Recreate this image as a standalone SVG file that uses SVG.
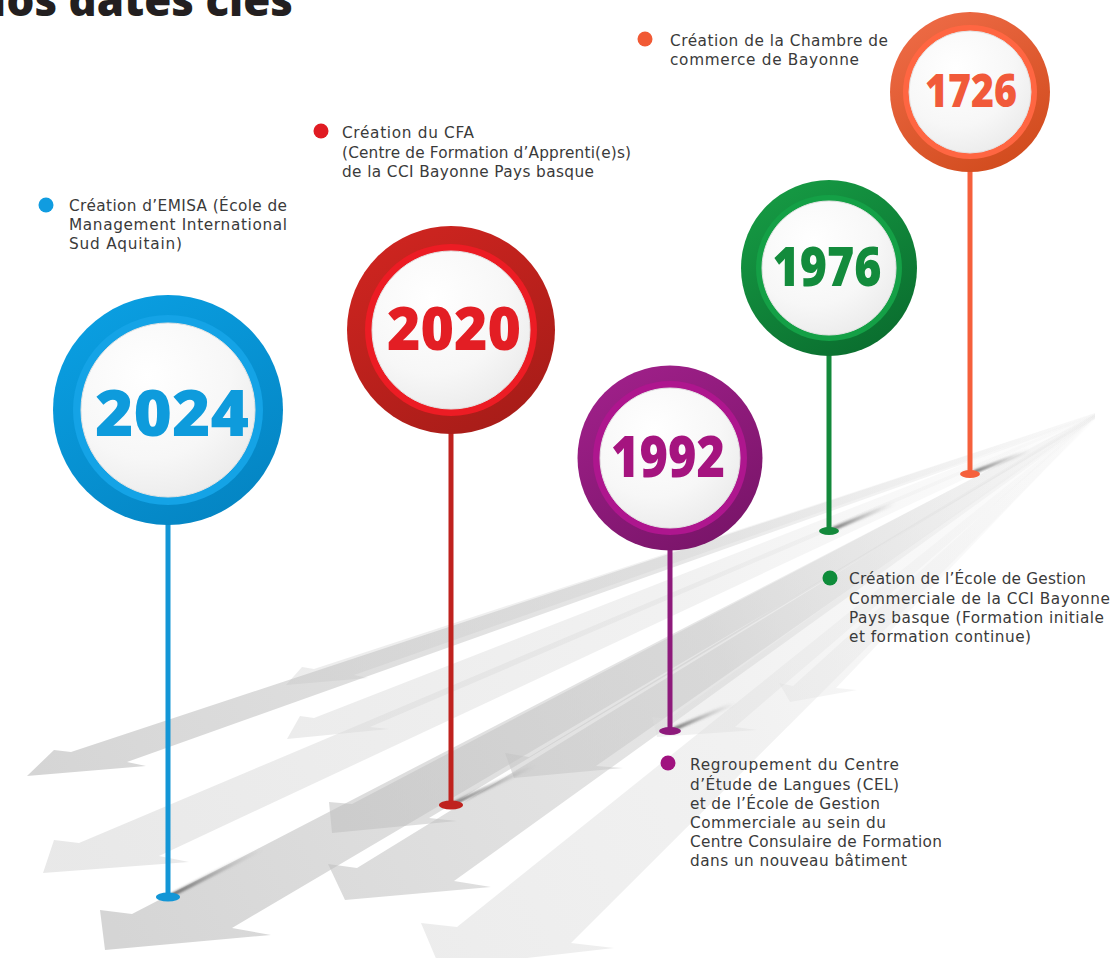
<svg xmlns="http://www.w3.org/2000/svg" width="1112" height="958" viewBox="0 0 1112 958">
<style>
.lbl{font-family:"DejaVu Sans","Open Sans",sans-serif;font-size:15.3px;fill:#3a3a3a}
.yr{font-family:"Open Sans","Liberation Sans",sans-serif;font-weight:800;text-anchor:middle}
.title{font-family:"Open Sans","Liberation Sans",sans-serif;font-weight:800;font-size:44px;fill:#231f20}
.arrA{fill:url(#arrDark)}
.arrB{fill:url(#arrLight)}
.disc{fill:url(#discGrad);stroke:#e2e2e2;stroke-width:1}
.shadow{stroke:url(#shGrad);stroke-width:4;fill:none;filter:url(#blur)}
</style>
<defs>
<linearGradient id="arrDark" gradientUnits="userSpaceOnUse" x1="100" y1="900" x2="1095" y2="415">
<stop offset="0" stop-color="#b9b9b9" stop-opacity="0.6"/>
<stop offset="0.6" stop-color="#c8c8c8" stop-opacity="0.45"/>
<stop offset="1" stop-color="#e4e4e4" stop-opacity="0.15"/>
</linearGradient>
<linearGradient id="arrLight" gradientUnits="userSpaceOnUse" x1="100" y1="900" x2="1095" y2="415">
<stop offset="0" stop-color="#d6d6d6" stop-opacity="0.55"/>
<stop offset="0.6" stop-color="#dddddd" stop-opacity="0.4"/>
<stop offset="1" stop-color="#eeeeee" stop-opacity="0.15"/>
</linearGradient>
<linearGradient id="shGrad" x1="0" y1="1" x2="1" y2="0">
<stop offset="0" stop-color="#444" stop-opacity="0.7"/>
<stop offset="1" stop-color="#888" stop-opacity="0"/>
</linearGradient>
<filter id="blur" x="-20%" y="-20%" width="140%" height="140%"><feGaussianBlur stdDeviation="1.2"/></filter>
<radialGradient id="discGrad" cx="0.38" cy="0.3" r="0.8">
<stop offset="0" stop-color="#ffffff"/>
<stop offset="0.6" stop-color="#f7f7f7"/>
<stop offset="1" stop-color="#e9e9e9"/>
</radialGradient>
<linearGradient id="gBlue" x1="0.2" y1="0" x2="0.8" y2="1"><stop offset="0" stop-color="#0a9fe2"/><stop offset="1" stop-color="#0484c2"/></linearGradient>
<linearGradient id="gRed" x1="0.2" y1="0" x2="0.8" y2="1"><stop offset="0" stop-color="#cf2520"/><stop offset="1" stop-color="#a61c18"/></linearGradient>
<linearGradient id="gPurple" x1="0.2" y1="0" x2="0.8" y2="1"><stop offset="0" stop-color="#a0208a"/><stop offset="1" stop-color="#781468"/></linearGradient>
<linearGradient id="gGreen" x1="0.2" y1="0" x2="0.8" y2="1"><stop offset="0" stop-color="#169b44"/><stop offset="1" stop-color="#0a6c2e"/></linearGradient>
<linearGradient id="gOrange" x1="0.2" y1="0" x2="0.8" y2="1"><stop offset="0" stop-color="#ee6b46"/><stop offset="1" stop-color="#d04a1c"/></linearGradient>
</defs>

<rect width="1112" height="958" fill="#ffffff"/>

<text class="title" x="-30" y="16" textLength="323" lengthAdjust="spacingAndGlyphs">Nos dates clés</text>

<g id="background-arrows">
<polygon class="arrB" points="1095,413 314,669 302,667 286,685 368,678 354,675 1095,416"/>
<polygon class="arrA" points="1095,413 71,752 54,750 27,776 146,766 127,762 1095,417"/>
<polygon class="arrB" points="1095,413 314,718 300,716 287,739 389,729 370,727 1095,417"/>
<polygon class="arrB" points="1095,414 79,843 54,840 43,873 189,862 159,856 1095,418"/>
<polygon class="arrA" points="1095,414 352,804 329,802 332,833 457,821 429,818 1095,418"/>
<polygon class="arrA" points="1095,415 132,914 100,910 105,950 271,935 232,928 1095,419"/>
<polygon class="arrA" points="1095,415 357,868 328,864 345,900 491,887 454,881 1095,419"/>
<polygon class="arrB" points="1095,415 457,927 421,923 440,968 614,948 571,943 1095,420"/>
<polygon class="arrA" points="1095,414 529,757 505,753 514,778 623,768 596,766 1095,418"/>
<polygon class="arrB" points="1095,414 668,719 652,717 657,737 757,730 735,727 1095,418"/>
<polygon class="arrB" points="1095,413 793,686 779,683 790,702 857,690 836,688 1095,417"/>
</g>

<g id="connectors">
<line class="shadow" x1="172" y1="895" x2="262" y2="849"/>
<line class="shadow" x1="455" y1="803" x2="535" y2="765"/>
<line class="shadow" x1="674" y1="729" x2="735" y2="703"/>
<line class="shadow" x1="833" y1="529" x2="895" y2="503"/>
<line class="shadow" x1="974" y1="472" x2="1030" y2="450"/>
<line x1="168" y1="520" x2="168" y2="897" stroke="#1396d6" stroke-width="5"/>
<ellipse cx="168" cy="897" rx="12" ry="4.5" fill="#1396d6"/>
<line x1="451" y1="430" x2="451" y2="805" stroke="#bf221e" stroke-width="5"/>
<ellipse cx="451" cy="805" rx="12" ry="4.5" fill="#bf221e"/>
<line x1="670" y1="546" x2="670" y2="731" stroke="#8d1a7b" stroke-width="5"/>
<ellipse cx="670" cy="731" rx="11" ry="4" fill="#8d1a7b"/>
<line x1="829" y1="352" x2="829" y2="531" stroke="#13893b" stroke-width="5"/>
<ellipse cx="829" cy="531" rx="10" ry="4" fill="#13893b"/>
<line x1="970" y1="168" x2="970" y2="474" stroke="#f5603c" stroke-width="5"/>
<ellipse cx="970" cy="474" rx="10" ry="4" fill="#f5603c"/>
</g>

<g id="node-2024">
<circle cx="168" cy="410" r="115" fill="url(#gBlue)"/>
<circle cx="168" cy="410" r="95" fill="#14a3e6"/>
<circle cx="168" cy="410" r="87" class="disc"/>
<text class="yr" x="172" y="436" font-size="64" fill="#0e9bdc" textLength="154" lengthAdjust="spacingAndGlyphs">2024</text>
</g>

<g id="node-2020">
<circle cx="451" cy="330" r="104" fill="url(#gRed)"/>
<circle cx="451" cy="330" r="86" fill="#ec1c24"/>
<circle cx="451" cy="330" r="79" class="disc"/>
<text class="yr" x="454" y="350" font-size="60" fill="#e31e24" textLength="134" lengthAdjust="spacingAndGlyphs">2020</text>
</g>

<g id="node-1992">
<circle cx="670" cy="458" r="92.5" fill="url(#gPurple)"/>
<circle cx="670" cy="458" r="77" fill="#ae168e"/>
<circle cx="670" cy="458" r="70" class="disc"/>
<text class="yr" x="668" y="477" font-size="56" fill="#a5147f" textLength="114" lengthAdjust="spacingAndGlyphs">1992</text>
</g>

<g id="node-1976">
<circle cx="829" cy="268" r="88" fill="url(#gGreen)"/>
<circle cx="829" cy="268" r="73" fill="#14a046"/>
<circle cx="829" cy="268" r="67" class="disc"/>
<text class="yr" x="827" y="286" font-size="54" fill="#138b3c" textLength="109" lengthAdjust="spacingAndGlyphs">1976</text>
</g>

<g id="node-1726">
<circle cx="970" cy="92" r="80" fill="url(#gOrange)"/>
<circle cx="970" cy="92" r="67" fill="#ff6642"/>
<circle cx="970" cy="92" r="61" class="disc"/>
<text class="yr" x="971" y="107" font-size="46" fill="#f15a3a" textLength="92" lengthAdjust="spacingAndGlyphs">1726</text>
</g>

<g id="label-1726">
<circle cx="645" cy="39" r="7.5" fill="#f15a35"/>
<text class="lbl" x="670" y="46" textLength="218">Création de la Chambre de</text>
<text class="lbl" x="670" y="65" textLength="189">commerce de Bayonne</text>
</g>

<g id="label-2020">
<circle cx="321" cy="131" r="7.5" fill="#e01b22"/>
<text class="lbl" x="342" y="138" textLength="132">Création du CFA</text>
<text class="lbl" x="342" y="157.5" textLength="289">(Centre de Formation d’Apprenti(e)s)</text>
<text class="lbl" x="342" y="177" textLength="252">de la CCI Bayonne Pays basque</text>
</g>

<g id="label-2024">
<circle cx="46" cy="205" r="7.5" fill="#109ce0"/>
<text class="lbl" x="69" y="211" textLength="218">Création d’EMISA (École de</text>
<text class="lbl" x="69" y="230" textLength="218">Management International</text>
<text class="lbl" x="69" y="249" textLength="113">Sud Aquitain)</text>
</g>

<g id="label-1976">
<circle cx="830" cy="578" r="7.5" fill="#0e8c3a"/>
<text class="lbl" x="849" y="584" textLength="237">Création de l’École de Gestion</text>
<text class="lbl" x="849" y="603.5" textLength="261">Commerciale de la CCI Bayonne</text>
<text class="lbl" x="849" y="623" textLength="255">Pays basque (Formation initiale</text>
<text class="lbl" x="849" y="642" textLength="182">et formation continue)</text>
</g>

<g id="label-1992">
<circle cx="668" cy="763" r="7.5" fill="#a0127f"/>
<text class="lbl" x="690" y="770" textLength="209">Regroupement du Centre</text>
<text class="lbl" x="690" y="789.5" textLength="209">d’Étude de Langues (CEL)</text>
<text class="lbl" x="690" y="808.5" textLength="190">et de l’École de Gestion</text>
<text class="lbl" x="690" y="828" textLength="196">Commerciale au sein du</text>
<text class="lbl" x="690" y="847" textLength="252">Centre Consulaire de Formation</text>
<text class="lbl" x="690" y="866" textLength="217">dans un nouveau bâtiment</text>
</g>
</svg>
